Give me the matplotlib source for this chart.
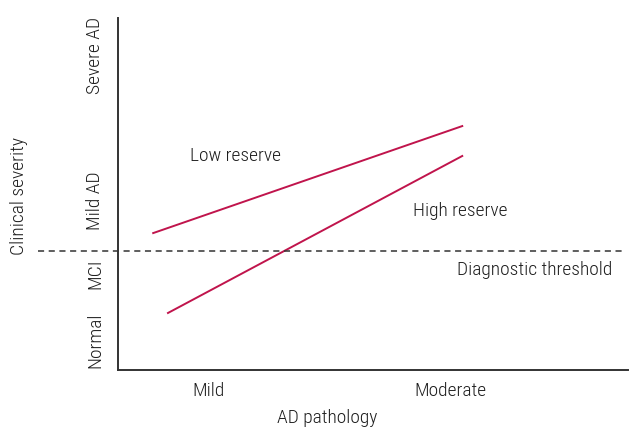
import matplotlib
matplotlib.use("Agg")
import matplotlib.pyplot as plt

plt.rcParams['font.family'] = ['Roboto Condensed', 'Roboto', 'DejaVu Sans']
plt.rcParams['font.weight'] = 'light'
plt.rcParams['axes.labelweight'] = 'light'

# Data (normalized axis units 0..1)
x_categories = ["Mild", "Moderate"]
x_positions = [0.178, 0.651]
y_categories = ["Normal", "MCI", "Mild AD", "Severe AD"]
y_positions = [0.085, 0.273, 0.480, 0.895]

low_reserve_x = [0.069, 0.675]
low_reserve_y = [0.389, 0.693]
high_reserve_x = [0.098, 0.675]
high_reserve_y = [0.162, 0.608]
threshold_y = 0.338

line_color = "#c0144c"
text_color = "#1e1e1e"
fs = 14

fig = plt.figure(figsize=(6.3, 4.3), dpi=100)
ax = fig.add_axes([118/630, 1 - 370/430, 510/630, 352/430])
ax.set_xlim(0, 1)
ax.set_ylim(0, 1)

ax.plot(low_reserve_x, low_reserve_y, color=line_color, lw=1.4)
ax.plot(high_reserve_x, high_reserve_y, color=line_color, lw=1.4)
ax.axhline(threshold_y, xmin=-0.157, xmax=0.988, color="#333333", lw=1.1,
           linestyle=(0, (4, 3)), clip_on=False)

ax.text(0.141, 0.608, "Low reserve", fontsize=fs, color=text_color, va="center", ha="left")
ax.text(0.578, 0.452, "High reserve", fontsize=fs, color=text_color, va="center", ha="left")
ax.text(0.665, 0.284, "Diagnostic threshold", fontsize=fs, color=text_color, va="center", ha="left")

for s in ["top", "right"]:
    ax.spines[s].set_visible(False)
for s in ["left", "bottom"]:
    ax.spines[s].set_color("#333333")
    ax.spines[s].set_linewidth(1.4)

ax.set_xticks(x_positions)
ax.set_xticklabels(x_categories, fontsize=fs, color=text_color)
ax.set_yticks(y_positions)
ax.set_yticklabels(y_categories, fontsize=fs, color=text_color, rotation=90, va="center")
ax.tick_params(axis="both", length=0)
ax.tick_params(axis="x", pad=9)
ax.tick_params(axis="y", pad=10)

ax.set_xlabel("AD pathology", fontsize=fs, color=text_color, fontweight="light")
ax.xaxis.set_label_coords((327 - 118) / 510, -(409 - 370) / 352)
ax.set_ylabel("Clinical severity", fontsize=fs, color=text_color, fontweight="light")
ax.yaxis.set_label_coords(-(118 - 28) / 510, (370 - 196) / 352)

fig.savefig("out.png", dpi=100)
